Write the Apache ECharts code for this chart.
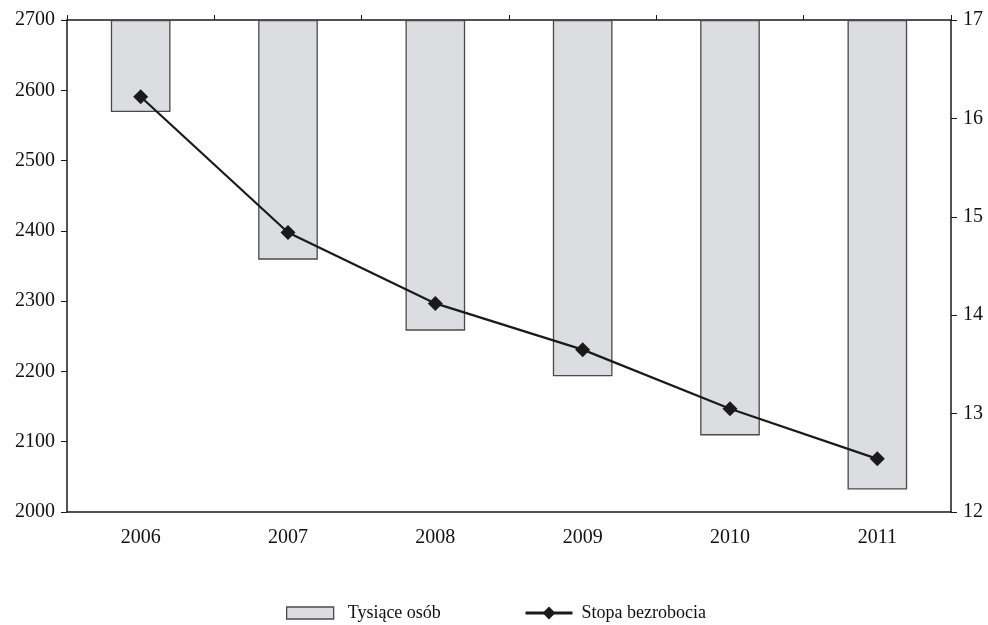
<!DOCTYPE html>
<html>
<head>
<meta charset="utf-8">
<script src="https://cdn.jsdelivr.net/npm/echarts@6/dist/echarts.min.js"></script>
<style>html,body{margin:0;padding:0;background:#fff}#c{width:988px;height:625px}</style>
</head>
<body>
<div id="c"></div>
<script>
const years = ['2006', '2007', '2008', '2009', '2010', '2011'];
const thousandsPersons = [2569, 2359, 2258, 2193, 2109, 2032];
const unemploymentRate = [16.22, 14.84, 14.12, 13.65, 13.05, 12.54];
const leftTicks = [2000, 2700, 100];
const rightTicks = [12, 17, 1];
const barTop = 2700;

const FONT = 'Liberation Serif';
const chart = echarts.init(document.getElementById('c'), null, {renderer: 'canvas'});
const txt = {fontFamily: FONT, fontSize: 20, color: '#111'};

chart.setOption({
  animation: false,
  backgroundColor: '#fff',
  grid: {left: 67, right: 37, top: 20, bottom: 113},
  legend: [
    {
      left: 286, top: 604, padding: 0,
      itemWidth: 47, itemHeight: 12,
      textStyle: {fontFamily: FONT, fontSize: 18, color: '#111', padding: [0, 0, 0, 9]},
      data: [{name: 'Tysiące osób', icon: 'rect', itemStyle: {color: '#dcdde0', borderColor: '#4a4a4a', borderWidth: 1.3}}]
    },
    {
      left: 524, top: 604, padding: 0,
      itemWidth: 47, itemHeight: 16,
      textStyle: {fontFamily: FONT, fontSize: 18, color: '#111', padding: [0, 0, 0, 4]},
      data: [{name: 'Stopa bezrobocia', lineStyle: {width: 3, color: '#1a1a1a'}}]
    }
  ],
  xAxis: [
    {
      type: 'category', data: years, position: 'bottom',
      axisLine: {show: true, lineStyle: {color: '#1a1a1a', width: 1.5}},
      axisTick: {show: false},
      axisLabel: Object.assign({}, txt, {margin: 16})
    },
    {
      type: 'category', data: years, position: 'top',
      axisLine: {show: true, onZero: false, lineStyle: {color: '#1a1a1a', width: 1.5}},
      axisTick: {show: true, inside: false, length: 5, alignWithLabel: false, lineStyle: {color: '#1a1a1a', width: 1}},
      axisLabel: {show: false}
    }
  ],
  yAxis: [
    {
      type: 'value', min: leftTicks[0], max: leftTicks[1], interval: leftTicks[2], position: 'left',
      axisLine: {show: true, lineStyle: {color: '#1a1a1a', width: 1.5}},
      axisTick: {show: true, length: 6, lineStyle: {color: '#1a1a1a'}},
      splitLine: {show: false},
      axisLabel: Object.assign({}, txt, {margin: 12, formatter: v => String(v)})
    },
    {
      type: 'value', min: rightTicks[0], max: rightTicks[1], interval: rightTicks[2], position: 'right',
      axisLine: {show: true, lineStyle: {color: '#1a1a1a', width: 1.5}},
      axisTick: {show: true, length: 6, lineStyle: {color: '#1a1a1a'}},
      splitLine: {show: false},
      axisLabel: Object.assign({}, txt, {margin: 12, formatter: v => String(v)})
    }
  ],
  series: [
    {
      name: 'base', type: 'bar', stack: 'b', xAxisIndex: 0, yAxisIndex: 0,
      data: thousandsPersons,
      barWidth: '40.5%',
      itemStyle: {color: 'transparent', borderWidth: 0},
      silent: true
    },
    {
      name: 'Tysiące osób', type: 'bar', stack: 'b', xAxisIndex: 0, yAxisIndex: 0,
      data: thousandsPersons.map(v => barTop - v),
      barWidth: '40.5%',
      itemStyle: {color: '#dcdde0', borderColor: '#4a4a4a', borderWidth: 1.3}
    },
    {
      name: 'Stopa bezrobocia', type: 'line', xAxisIndex: 0, yAxisIndex: 1,
      data: unemploymentRate,
      symbol: 'diamond', symbolSize: [15, 15],
      lineStyle: {color: '#1a1a1a', width: 2.2},
      itemStyle: {color: '#1a1a1a'}
    }
  ]
});
</script>
</body>
</html>
